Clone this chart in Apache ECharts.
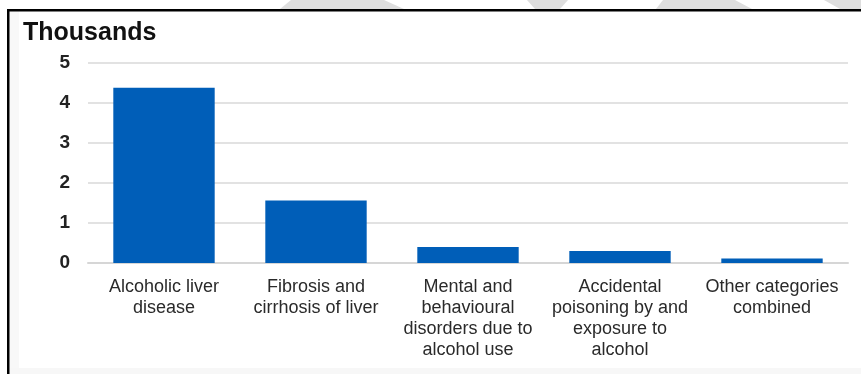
<!DOCTYPE html>
<html>
<head>
<meta charset="utf-8">
<script src="https://cdn.jsdelivr.net/npm/echarts@6/dist/echarts.min.js"></script>
<style>
  html, body { margin: 0; padding: 0; background: #ffffff; }
  #chart { width: 861px; height: 374px; }
</style>
</head>
<body>
<div id="chart"></div>
<script>
// Alcohol-specific deaths by underlying cause (thousands)
const categories = [
  'Alcoholic liver\ndisease',
  'Fibrosis and\ncirrhosis of liver',
  'Mental and\nbehavioural\ndisorders due to\nalcohol use',
  'Accidental\npoisoning by and\nexposure to\nalcohol',
  'Other categories\ncombined'
];
const deaths = [4.37, 1.56, 0.40, 0.30, 0.11];
const yTicks = [0, 1, 2, 3, 4, 5];

const chart = echarts.init(document.getElementById('chart'), null, { renderer: 'canvas' });

const font = '"Liberation Sans", Arial, sans-serif';

chart.setOption({
  animation: false,
  backgroundColor: '#f7f7f7',
  graphic: [
    // white panel with the frame on its top and left edges
    { type: 'rect', shape: { x: 9, y: 11, width: 852, height: 357 }, style: { fill: '#ffffff' }, z: -10 },
    { type: 'rect', shape: { x: 9, y: 11, width: 10, height: 357 }, style: { fill: '#f8f8f8' }, z: -9 },
    { type: 'rect', shape: { x: 0, y: 0, width: 861, height: 9 }, style: { fill: '#ffffff' }, z: -9 },
    { type: 'rect', shape: { x: 0, y: 9, width: 7, height: 365 }, style: { fill: '#ffffff' }, z: -9 },
    { type: 'polygon', shape: { points: [[291,0],[384,0],[404,9],[280,9]] }, style: { fill: '#dedede' }, z: -8 },
    { type: 'polygon', shape: { points: [[527,0],[568,0],[560,9],[535,9]] }, style: { fill: '#dedede' }, z: -8 },
    { type: 'polygon', shape: { points: [[663,0],[735,0],[752,9],[656,9]] }, style: { fill: '#dedede' }, z: -8 },
    { type: 'polygon', shape: { points: [[824,0],[861,0],[861,9],[840,9]] }, style: { fill: '#dedede' }, z: -8 },
    { type: 'rect', shape: { x: 7, y: 9, width: 854, height: 2.5 }, style: { fill: '#000000' }, z: 10 },
    { type: 'rect', shape: { x: 7, y: 9, width: 2.5, height: 365 }, style: { fill: '#000000' }, z: 10 },
    {
      type: 'text', left: 23, top: 21, z: 10,
      style: { text: 'Thousands', font: 'bold 25px ' + font, fill: '#111111' }
    }
  ],
  grid: { left: 88, right: 13, top: 62.5, bottom: 111, containLabel: false },
  xAxis: {
    type: 'category',
    data: categories,
    axisLine: { show: true, lineStyle: { color: '#d6d6d6', width: 2 } },
    axisTick: { show: false },
    axisLabel: {
      interval: 0,
      margin: 14,
      color: '#2a2a2a',
      fontFamily: font,
      fontSize: 18,
      lineHeight: 21,
      align: 'center'
    }
  },
  yAxis: {
    type: 'value',
    min: 0,
    max: 5,
    interval: 1,
    axisLine: { show: false },
    axisTick: { show: false },
    splitLine: { show: true, lineStyle: { color: '#e2e2e2', width: 2 } },
    axisLabel: {
      margin: 18,
      color: '#222222',
      fontFamily: font,
      fontWeight: 'bold',
      fontSize: 19,
      formatter: v => (yTicks.includes(v) ? String(v) : '')
    }
  },
  series: [{
    type: 'bar',
    data: deaths,
    barWidth: '66.7%',
    itemStyle: { color: '#005eb8' }
  }]
});
</script>
</body>
</html>
